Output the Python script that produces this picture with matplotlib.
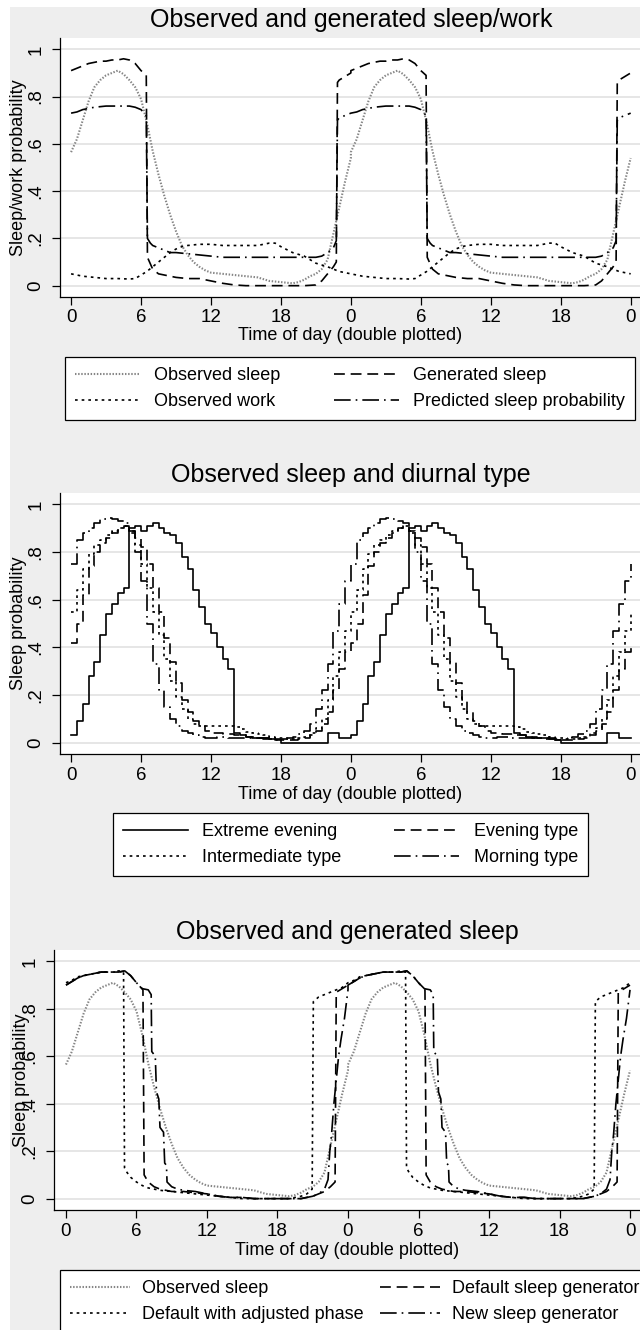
import matplotlib
matplotlib.use("Agg")
import matplotlib.pyplot as plt
from matplotlib.patches import Rectangle

plt.rcParams['font.family'] = ['Liberation Sans', 'DejaVu Sans']

W, H = 640, 1330

# ---- panel 1: observed and generated sleep/work (one day, double plotted) ----
obs_sleep_h = [0, 0.5, 1, 1.5, 2, 2.5, 3, 3.5, 4, 4.5, 5, 5.5, 6, 6.5, 7, 7.5, 8, 8.5, 9, 9.5,
               10, 10.5, 11, 11.5, 12, 13, 14, 15, 16, 17, 18, 19, 19.5, 20, 20.5, 21, 21.5,
               22, 22.5, 23, 23.5, 24]
obs_sleep = [0.565, 0.62, 0.70, 0.78, 0.84, 0.87, 0.89, 0.90, 0.91, 0.895, 0.87, 0.84, 0.79,
             0.69, 0.57, 0.47, 0.38, 0.30, 0.23, 0.17, 0.13, 0.10, 0.08, 0.065, 0.055, 0.05,
             0.045, 0.04, 0.035, 0.02, 0.015, 0.01, 0.015, 0.025, 0.04, 0.05, 0.07, 0.11,
             0.22, 0.33, 0.44, 0.54]

work_h = [0, 1, 2, 3, 4, 5, 5.5, 6, 6.5, 7, 7.5, 8, 8.5, 9, 9.5, 10, 11, 12, 13, 14, 15, 16,
          17, 17.5, 18, 19, 20, 21, 22, 23, 24]
work = [0.05, 0.04, 0.035, 0.03, 0.03, 0.028, 0.03, 0.045, 0.06, 0.08, 0.10, 0.12, 0.14,
        0.155, 0.165, 0.17, 0.175, 0.175, 0.17, 0.17, 0.17, 0.17, 0.18, 0.18, 0.165, 0.14,
        0.125, 0.095, 0.08, 0.06, 0.05]

gen_h = [0, 0.5, 1, 1.5, 2, 2.5, 3, 3.5, 4, 4.5, 5, 5.5, 6, 6.45, 6.55, 7, 7.5, 8, 9, 10, 11,
         12, 13, 14, 15, 16, 17, 18, 19, 20, 21, 21.5, 22, 22.5, 22.75, 22.85, 23, 23.5, 24]
gen_sleep = [0.91, 0.92, 0.93, 0.94, 0.945, 0.95, 0.95, 0.955, 0.955, 0.96, 0.955, 0.94, 0.91,
             0.89, 0.12, 0.07, 0.05, 0.045, 0.035, 0.03, 0.03, 0.02, 0.01, 0.003, 0.0, 0.0,
             0.0, 0.0, 0.0, 0.0, 0.003, 0.02, 0.05, 0.08, 0.1, 0.86, 0.87, 0.885, 0.90]

pred_h = [0, 0.5, 1, 1.5, 2, 3, 4, 5, 5.5, 6, 6.45, 6.55, 6.8, 7, 7.5, 8, 8.5, 9, 10, 11, 12,
          13, 14, 15, 16, 17, 18, 19, 20, 21, 21.5, 22, 22.5, 22.75, 22.85, 23, 23.5, 24]
pred = [0.73, 0.735, 0.745, 0.75, 0.755, 0.76, 0.76, 0.76, 0.755, 0.745, 0.72, 0.2, 0.18, 0.17,
        0.16, 0.15, 0.14, 0.14, 0.135, 0.13, 0.125, 0.12, 0.12, 0.12, 0.12, 0.12, 0.12, 0.12,
        0.12, 0.12, 0.125, 0.14, 0.16, 0.19, 0.70, 0.71, 0.72, 0.73]

# ---- panel 2: sleep by diurnal type (half-hour steps) ----
half_h = [i * 0.5 for i in range(49)]
extreme = [0.03, 0.09, 0.16, 0.28, 0.34, 0.45, 0.54, 0.58, 0.63, 0.65, 0.90, 0.91, 0.89, 0.91,
           0.92, 0.90, 0.88, 0.87, 0.84, 0.78, 0.73, 0.64, 0.57, 0.50, 0.46, 0.40, 0.35, 0.31,
           0.04, 0.03, 0.025, 0.02, 0.02, 0.02, 0.015, 0.01, 0.0, 0.0, 0.0, 0.0, 0.0, 0.0,
           0.0, 0.0, 0.04, 0.04, 0.02, 0.02, 0.02]
evening = [0.42, 0.50, 0.62, 0.74, 0.80, 0.84, 0.86, 0.88, 0.90, 0.91, 0.89, 0.86, 0.82, 0.75,
           0.65, 0.55, 0.44, 0.34, 0.25, 0.18, 0.13, 0.09, 0.07, 0.05, 0.04, 0.04, 0.035,
           0.035, 0.03, 0.03, 0.025, 0.025, 0.02, 0.02, 0.02, 0.015, 0.01, 0.01, 0.01, 0.015,
           0.02, 0.03, 0.05, 0.08, 0.13, 0.22, 0.31, 0.38, 0.42]
intermediate = [0.55, 0.64, 0.73, 0.79, 0.83, 0.85, 0.87, 0.89, 0.90, 0.91, 0.88, 0.83, 0.75,
                0.65, 0.55, 0.45, 0.35, 0.26, 0.19, 0.14, 0.10, 0.08, 0.07, 0.07, 0.07, 0.07,
                0.07, 0.07, 0.065, 0.055, 0.045, 0.04, 0.035, 0.03, 0.025, 0.02, 0.02, 0.015,
                0.015, 0.02, 0.025, 0.04, 0.06, 0.10, 0.18, 0.28, 0.38, 0.47, 0.55]
morning = [0.75, 0.85, 0.88, 0.90, 0.92, 0.94, 0.945, 0.94, 0.93, 0.92, 0.89, 0.80, 0.68, 0.50,
           0.33, 0.22, 0.15, 0.10, 0.07, 0.05, 0.04, 0.03, 0.025, 0.02, 0.02, 0.025, 0.025,
           0.02, 0.02, 0.02, 0.02, 0.02, 0.02, 0.015, 0.015, 0.01, 0.015, 0.02, 0.025, 0.035,
           0.05, 0.08, 0.14, 0.22, 0.33, 0.47, 0.58, 0.68, 0.75]

# ---- panel 3: observed and generated sleep ----
default_h = [0, 0.5, 1, 1.5, 2, 2.5, 3, 3.5, 4, 4.5, 5, 5.5, 6, 6.55, 6.65, 7, 7.5, 8, 9, 10,
             11, 12, 13, 14, 15, 16, 17, 18, 19, 20, 21, 21.5, 22, 22.5, 22.9, 23.0, 23.5, 24]
default_gen = [0.90, 0.915, 0.93, 0.94, 0.945, 0.95, 0.955, 0.955, 0.955, 0.955, 0.96, 0.94,
               0.91, 0.88, 0.10, 0.07, 0.05, 0.04, 0.03, 0.03, 0.025, 0.02, 0.01, 0.005,
               0.005, 0.0, 0.0, 0.0, 0.0, 0.0, 0.01, 0.02, 0.03, 0.05, 0.07, 0.87, 0.885, 0.90]

adjusted_h = [0, 0.5, 1, 1.5, 2, 2.5, 3, 3.5, 4, 4.5, 4.9, 4.98, 5.2, 5.5, 6, 6.5, 7, 8, 9,
              10, 11, 12, 13, 14, 15, 16, 17, 18, 19, 20, 20.5, 20.95, 21.05, 21.5, 22, 22.5,
              23, 23.5, 24]
adjusted = [0.91, 0.92, 0.935, 0.94, 0.945, 0.95, 0.955, 0.955, 0.955, 0.96, 0.955, 0.13,
            0.11, 0.09, 0.07, 0.055, 0.045, 0.035, 0.03, 0.025, 0.02, 0.015, 0.01, 0.005, 0.0,
            0.0, 0.0, 0.0, 0.0, 0.01, 0.02, 0.04, 0.83, 0.85, 0.86, 0.87, 0.88, 0.89, 0.91]

new_h = [0, 0.5, 1, 1.5, 2, 2.5, 3, 3.5, 4, 4.5, 5, 5.5, 6, 6.5, 7.0, 7.25, 7.3, 7.6, 7.7,
         7.9, 8.0, 8.3, 8.4, 8.55, 8.6, 9, 9.5, 10, 11, 12, 13, 14, 15, 16, 17, 18, 19, 20,
         21, 21.5, 22, 22.3, 22.45, 22.6, 22.8, 23, 23.2, 23.4, 23.7, 24]
new_gen = [0.90, 0.915, 0.93, 0.94, 0.945, 0.95, 0.955, 0.955, 0.955, 0.955, 0.96, 0.94, 0.91,
           0.885, 0.88, 0.86, 0.62, 0.60, 0.45, 0.42, 0.30, 0.28, 0.15, 0.14, 0.07, 0.05, 0.04,
           0.035, 0.03, 0.02, 0.01, 0.005, 0.005, 0.0, 0.0, 0.0, 0.0, 0.0, 0.01, 0.02, 0.04,
           0.08, 0.2, 0.27, 0.4, 0.5, 0.6, 0.67, 0.76, 0.88]

tick_pos = [0, 6, 12, 18, 24, 30, 36, 42, 48]
tick_lab = ["0", "6", "12", "18", "0", "6", "12", "18", "0"]
ytick_pos = [0, 0.2, 0.4, 0.6, 0.8, 1.0]
ytick_lab = ["0", ".2", ".4", ".6", ".8", "1"]

FS = 13
OBS = dict(color="#858585", lw=1.5, ls=(0, (0.7, 0.8)))
DOT = dict(color="black", lw=1.2, ls=(0, (1.6, 2.4)))
DASH = dict(color="black", lw=1.2, ls=(0, (6.5, 3.5)))
LDD = dict(color="black", lw=1.2, ls=(0, (10, 3, 1, 3)))
SOLID = dict(color="black", lw=1.2, ls="-")
LEG = dict(fontsize=FS, frameon=True, fancybox=False, edgecolor="black", framealpha=1,
           borderaxespad=0, handlelength=3.6, handletextpad=0.8, labelspacing=0.5,
           borderpad=0.55)


def twice(h, v):
    return list(h) + [t + 24 for t in h], list(v) + list(v)


def px_axes(left, top, bottom, right=W):
    return [left / W, 1 - bottom / H, (right - left) / W, (bottom - top) / H]


def setup(ax, ylabel, ylab_x, xlab_y):
    ax.set_facecolor("white")
    ax.set_xlim(-0.95, 48.8)
    ax.set_ylim(-0.048, 1.048)
    ax.set_xticks(tick_pos)
    ax.set_xticklabels(tick_lab)
    ax.set_yticks(ytick_pos)
    ax.set_yticklabels(ytick_lab)
    for lab in ax.get_yticklabels():
        lab.set_rotation(90)
        lab.set_va("center")
    ax.tick_params(axis="both", labelsize=FS + 0.5, length=6, width=0.9, color="black")
    ax.tick_params(axis="y", pad=5)
    ax.tick_params(axis="x", pad=3)
    ax.grid(axis="y", color="#e4e4e4", lw=1.3)
    ax.set_axisbelow(True)
    for s in ["top", "right"]:
        ax.spines[s].set_visible(False)
    for s in ["left", "bottom"]:
        ax.spines[s].set_linewidth(0.9)
    ax.set_xlabel("Time of day (double plotted)", fontsize=FS)
    ax.xaxis.set_label_coords(0.5, xlab_y)
    ax.xaxis.label.set_va("center")
    ax.set_ylabel(ylabel, fontsize=FS)
    ax.yaxis.set_label_coords(ylab_x, 0.5)
    ax.yaxis.label.set_va("center")


fig = plt.figure(figsize=(W / 100, H / 100), dpi=100, facecolor="white")
fig.patches.append(Rectangle((10 / W, 0), 1, 1 - 7 / H, transform=fig.transFigure,
                             facecolor="#eeeeee", edgecolor="none", zorder=-10))

# panel 1
ax1 = fig.add_axes(px_axes(60, 38, 297))
setup(ax1, "Sleep/work probability", -0.072, -0.15)
l_os, = ax1.plot(*twice(obs_sleep_h, obs_sleep), **OBS)
l_wk, = ax1.plot(*twice(work_h, work), **DOT)
l_gs, = ax1.plot(*twice(gen_h, gen_sleep), **DASH)
l_pr, = ax1.plot(*twice(pred_h, pred), **LDD)
fig.text(351 / W, 1 - 20 / H, "Observed and generated sleep/work", fontsize=18,
         ha="center", va="center")
fig.legend([l_os, l_wk, l_gs, l_pr],
           ["Observed sleep", "Observed work", "Generated sleep", "Predicted sleep probability"],
           ncol=2, loc="upper left", mode="expand",
           bbox_to_anchor=(65 / W, 1 - 419 / H, 570 / W, 62 / H),
           **LEG).get_frame().set_linewidth(0.9)

# panel 2
ax2 = fig.add_axes(px_axes(60, 493, 754))
setup(ax2, "Sleep probability", -0.072, -0.157)
l_ex, = ax2.plot(*twice(half_h, extreme), drawstyle="steps-post", **SOLID)
l_ev, = ax2.plot(*twice(half_h, evening), drawstyle="steps-post", **DASH)
l_in, = ax2.plot(*twice(half_h, intermediate), drawstyle="steps-post", **DOT)
l_mo, = ax2.plot(*twice(half_h, morning), drawstyle="steps-post", **LDD)
fig.text(351 / W, 1 - 475 / H, "Observed sleep and diurnal type", fontsize=18,
         ha="center", va="center")
fig.legend([l_ex, l_in, l_ev, l_mo],
           ["Extreme evening", "Intermediate type", "Evening type", "Morning type"],
           ncol=2, loc="upper left", mode="expand",
           bbox_to_anchor=(113 / W, 1 - 875 / H, 475 / W, 62 / H),
           **LEG).get_frame().set_linewidth(0.9)

# panel 3
ax3 = fig.add_axes(px_axes(54, 950, 1210))
setup(ax3, "Sleep probability", -0.055, -0.155)
ax3.set_xlim(-1.02, 48.85)
l_os3, = ax3.plot(*twice(obs_sleep_h, obs_sleep), **OBS)
l_ad, = ax3.plot(*twice(adjusted_h, adjusted), **DOT)
l_df, = ax3.plot(*twice(default_h, default_gen), **DASH)
l_nw, = ax3.plot(*twice(new_h, new_gen), **LDD)
fig.text(347 / W, 1 - 932 / H, "Observed and generated sleep", fontsize=18,
         ha="center", va="center")
leg3 = dict(LEG, handlelength=3.3, handletextpad=0.7)
fig.legend([l_os3, l_ad, l_df, l_nw],
           ["Observed sleep", "Default with adjusted phase", "Default sleep generator",
            "New sleep generator"],
           ncol=2, loc="upper left", bbox_to_anchor=(60 / W, 1 - 1270 / H),
           columnspacing=0.9, **leg3).get_frame().set_linewidth(0.9)

fig.savefig("out.png", dpi=100, facecolor=fig.get_facecolor())
